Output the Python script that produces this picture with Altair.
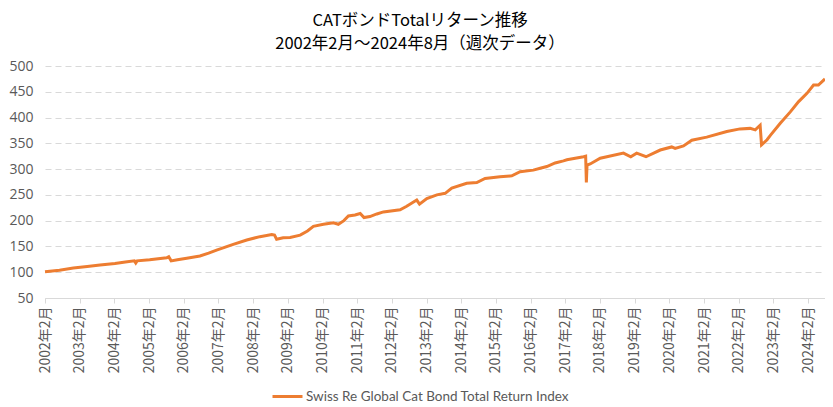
import altair as alt
import pandas as pd

# decimal year of each read point
t = [2002.083, 2002.50, 2002.90, 2003.30, 2003.67, 2004.10, 2004.40, 2004.66, 2004.70, 2004.74,
     2005.10, 2005.59, 2005.65, 2005.72, 2005.90, 2006.17, 2006.55, 2006.80, 2007.03, 2007.51,
     2007.90, 2008.28, 2008.62, 2008.70, 2008.76, 2008.95, 2009.15, 2009.44, 2009.65, 2009.82,
     2010.11, 2010.40, 2010.54, 2010.70, 2010.83, 2011.02, 2011.17, 2011.28, 2011.45, 2011.65,
     2011.84, 2012.32, 2012.51, 2012.80, 2012.88, 2013.09, 2013.38, 2013.62, 2013.81, 2014.24,
     2014.53, 2014.77, 2015.20, 2015.54, 2015.78, 2016.16, 2016.36, 2016.55, 2016.79, 2017.03,
     2017.13, 2017.61, 2017.67, 2017.69, 2017.71, 2017.80, 2018.09, 2018.76, 2018.97, 2019.14,
     2019.41, 2019.82, 2020.15, 2020.25, 2020.49, 2020.73, 2021.16, 2021.74, 2022.12, 2022.41,
     2022.56, 2022.70, 2022.74, 2022.90, 2023.00, 2023.28, 2023.57, 2023.81, 2024.05, 2024.24,
     2024.38, 2024.57]
values = [101, 104, 108, 111, 114, 117, 120, 122, 118, 122,
          124, 128, 130, 122, 124, 127, 131.5, 137, 143, 154,
          162.5, 169, 173, 172, 164, 167, 167.5, 172, 180, 189,
          193, 196, 193, 200, 209, 211, 214, 206, 208, 213,
          217, 221, 228, 240, 232, 243, 250, 253, 263, 272.5,
          274, 282, 285, 287, 295, 298, 301.6, 305, 312, 316,
          318, 324, 325, 274, 308, 310, 321, 331, 324, 331,
          324, 337, 343, 340, 345, 356, 362, 373, 378, 379,
          376, 385, 347, 357, 366, 389, 411, 431, 447, 463,
          463, 475]

series_name = "Swiss Re Global Cat Bond Total Return Index"
tick_years = list(range(2002, 2025))
y_ticks = [50, 100, 150, 200, 250, 300, 350, 400, 450, 500]
title_lines = ["CATボンドTotalリターン推移", "2002年2月～2024年8月（週次データ）"]

df = pd.DataFrame({"t": t, "v": values, "series": series_name})
tick_vals = [y + 1 / 12 for y in tick_years]

chart = alt.Chart(df).mark_line(strokeWidth=3, color="#ED7D31").encode(
    x=alt.X("t:Q",
            scale=alt.Scale(domain=[2002.083, 2024.57], nice=False, zero=False),
            axis=alt.Axis(values=tick_vals, labelExpr="floor(datum.value) + '年2月'",
                          labelAngle=-90, grid=False, title=None,
                          domainColor="#d9d9d9", tickColor="#d9d9d9", tickSize=5,
                          labelFontSize=14, labelColor="#595959", labelFont="Noto Sans CJK JP",
                          labelPadding=3)),
    y=alt.Y("v:Q",
            scale=alt.Scale(domain=[50, 500], nice=False, zero=False),
            axis=alt.Axis(values=y_ticks, title=None, domain=False, ticks=False,
                          gridColor="#d9d9d9", gridDash=[6, 4], gridWidth=1,
                          labelFontSize=14, labelColor="#595959", labelFont="Open Sans",
                          labelPadding=12)),
    color=alt.Color("series:N", scale=alt.Scale(range=["#ED7D31"]),
                    legend=alt.Legend(title=None, orient="none", legendX=226, legendY=314,
                                      symbolType="stroke", symbolSize=900, symbolStrokeWidth=3,
                                      labelFontSize=13.5, labelColor="#595959", labelOffset=2,
                                      labelFont="Lato", labelLimit=500)),
).properties(
    width=780, height=232,
    title=alt.Title(title_lines, fontSize=16.5, font="Noto Sans CJK JP", fontWeight="normal",
                    color="#000000", lineHeight=23, offset=7, dx=-15, anchor="middle"),
    autosize=alt.AutoSizeParams(type="none"),
    padding={"left": 37, "top": 58, "right": 0, "bottom": 109},
).configure_view(stroke=None)

chart.save("out.html", embed_options={"renderer": "svg", "actions": False})
